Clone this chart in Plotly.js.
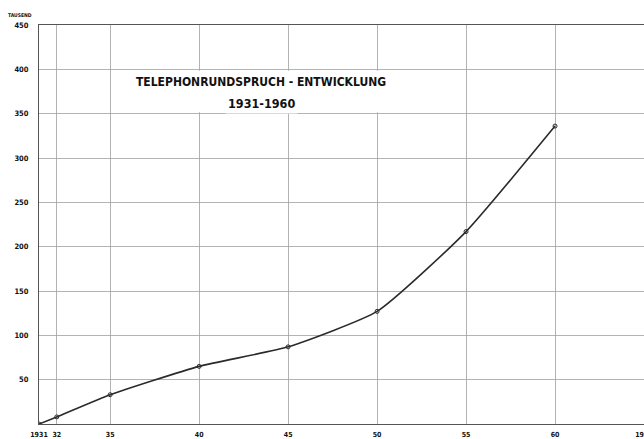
<!DOCTYPE html>
<html>
<head>
<meta charset="utf-8">
<script src="https://cdn.plot.ly/plotly-3.0.1.min.js"></script>
<style>html,body{margin:0;padding:0;background:#fff;}#chart{width:644px;height:439px;}</style>
</head>
<body>
<div id="chart"></div>
<script>
var years = [1931, 1932, 1935, 1940, 1945, 1950, 1955, 1960];
var subscribers = [0, 8, 33, 65, 87, 127, 217, 336];
var xTickVals = [1931, 1932, 1935, 1940, 1945, 1950, 1955, 1960, 1965];
var xTickText = ['1931', '32', '35', '40', '45', '50', '55', '60', '1965'];
var yTickVals = [50, 100, 150, 200, 250, 300, 350, 400, 450];
var titleLine1 = 'TELEPHONRUNDSPRUCH - ENTWICKLUNG';
var titleLine2 = '1931-1960';
var unitLabel = 'TAUSEND';

var font = 'DejaVu Sans Condensed, sans-serif';
var trace = {
  x: years, y: subscribers, type: 'scatter', mode: 'lines+markers',
  line: {color: '#2a2a2a', width: 1.6, shape: 'spline', smoothing: 0.5},
  marker: {symbol: 'circle-open', size: 4, color: '#2a2a2a', line: {width: 1}},
  hoverinfo: 'skip'
};
var layout = {
  width: 644, height: 439,
  margin: {l: 39, r: 0, t: 25, b: 15},
  paper_bgcolor: '#fff', plot_bgcolor: '#fff',
  showlegend: false,
  xaxis: {
    range: [1931, 1965], tickmode: 'array', tickvals: xTickVals, ticktext: xTickText,
    showgrid: true, gridcolor: '#a0a0a0', gridwidth: 0.8,
    showline: true, linecolor: '#555', linewidth: 1, mirror: true,
    zeroline: false, ticks: 'outside', ticklen: 4, tickcolor: 'rgba(0,0,0,0)',
    ticklabeloverflow: 'allow',
    tickfont: {family: font, size: 7, color: '#111', weight: 'bold'}
  },
  yaxis: {
    range: [0, 450], tickmode: 'array', tickvals: yTickVals,
    showgrid: true, gridcolor: '#a0a0a0', gridwidth: 0.8,
    showline: true, linecolor: '#555', linewidth: 1,
    zeroline: false, ticks: 'outside', ticklen: 8, tickcolor: 'rgba(0,0,0,0)',
    tickfont: {family: font, size: 7.5, color: '#111', weight: 'bold'}
  },
  shapes: [
    {type: 'rect', xref: 'x', yref: 'y', x0: 1936.4, x1: 1951.0, y0: 351.5, y1: 398.5,
     fillcolor: '#fff', line: {width: 0}, layer: 'between'}
  ],
  annotations: [
    {text: titleLine1, xref: 'x', yref: 'y', x: 1943.5, y: 386, showarrow: false,
     font: {family: font, size: 12, color: '#111', weight: 'bold'}},
    {text: titleLine2, xref: 'x', yref: 'y', x: 1943.5, y: 361, yanchor: 'middle', showarrow: false,
     bgcolor: '#fff', borderpad: 2,
     font: {family: font, size: 12.5, color: '#111', weight: 'bold'}},
    {text: unitLabel, xref: 'paper', yref: 'paper', x: -0.055, y: 1.025, xanchor: 'left', yanchor: 'middle',
     showarrow: false, font: {family: font, size: 5, color: '#111', weight: 'bold'}}
  ]
};
Plotly.newPlot('chart', [trace], layout, {staticPlot: true, displayModeBar: false});
</script>
</body>
</html>
